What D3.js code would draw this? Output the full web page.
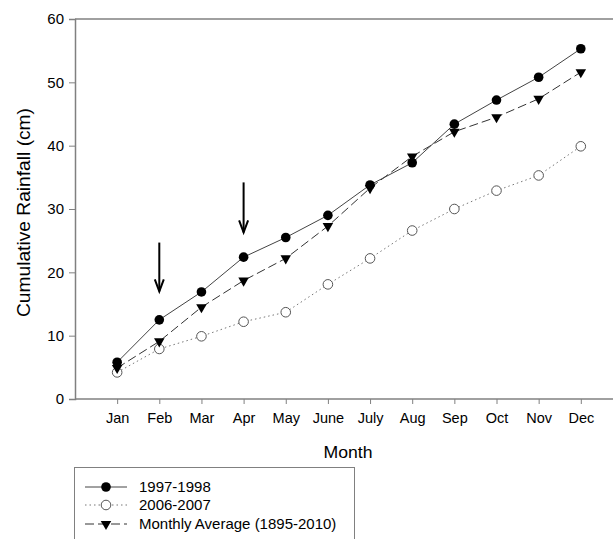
<!DOCTYPE html>
<html><head><meta charset="utf-8">
<script src="https://cdn.jsdelivr.net/npm/d3@7"></script>
<style>body{margin:0;background:#fff}svg{display:block;font-family:"Liberation Sans",Arial,sans-serif}</style>
</head><body><svg id="c" width="613" height="539"></svg>
<script>
const months = ["Jan","Feb","Mar","Apr","May","June","July","Aug","Sep","Oct","Nov","Dec"];
const s1997 = [5.8,12.5,16.9,22.4,25.5,29.0,33.8,37.3,43.4,47.2,50.8,55.3];
const s2006 = [4.2,7.9,9.9,12.2,13.7,18.1,22.2,26.6,30.0,32.9,35.3,39.9];
const sAvg  = [4.9,9.1,14.5,18.7,22.2,27.3,33.3,38.3,42.2,44.5,47.4,51.6];
const yTicks = [0,10,20,30,40,50,60];
const arrowMonths = ["Feb","Apr"];
const arrowTops = [24.7,34.2];
const arrowTips = [17.0,26.3];
const seriesNames = ["1997-1998","2006-2007","Monthly Average (1895-2010)"];

const svg = d3.select("#c");
const L = 75, T = 19, B = 399;
const x = d3.scaleLinear().domain([0,13]).range([L, L + 42.15*13]);
const xm = m => x(months.indexOf(m) + 1);
const y = d3.scaleLinear().domain([0,60]).range([B, T]);

svg.append("line").attr("x1",L).attr("x2",613).attr("y1",y(60)).attr("y2",y(60)).attr("stroke","#808080").attr("stroke-width",1.5);

const ya = svg.append("g").attr("transform",`translate(${L},0)`).call(d3.axisLeft(y).tickValues(yTicks).tickSize(6).tickPadding(5));
ya.select(".domain").attr("stroke","#808080").attr("stroke-width",1.5);
ya.selectAll(".tick line").attr("stroke","#808080");
ya.selectAll("text").attr("font-size",15).attr("fill","#000");

const xa = svg.append("g").attr("transform",`translate(0,${B})`)
  .call(d3.axisBottom(x).tickValues(d3.range(1,13)).tickFormat(d=>months[d-1]).tickSize(5).tickPadding(9));
xa.select(".domain").attr("stroke","#808080").attr("stroke-width",1.5).attr("d",`M${L},0H613`);
xa.selectAll(".tick line").attr("stroke","#808080");
xa.selectAll("text").attr("font-size",14.5).attr("fill","#000");

svg.append("text").attr("x",348).attr("y",458).attr("text-anchor","middle").attr("font-size",17)
  .attr("textLength",49).attr("lengthAdjust","spacingAndGlyphs").text("Month");
svg.append("text").attr("transform","translate(30,212.5) rotate(-90)").attr("text-anchor","middle").attr("font-size",17.5)
  .attr("textLength",209).attr("lengthAdjust","spacingAndGlyphs").text("Cumulative Rainfall (cm)");

const line = d3.line().x((d,i)=>x(i+1)).y(d=>y(d));
svg.append("path").datum(s2006).attr("d",line).attr("fill","none").attr("stroke","#777").attr("stroke-width",1).attr("stroke-dasharray","1.5,3");
svg.append("path").datum(sAvg).attr("d",line).attr("fill","none").attr("stroke","#333").attr("stroke-width",1).attr("stroke-dasharray","9,4");
svg.append("path").datum(s1997).attr("d",line).attr("fill","none").attr("stroke","#444").attr("stroke-width",1);

const tri = d3.symbol().type(d3.symbolTriangle).size(48);
function marker(g, kind, cx, cy){
  if(kind===0) g.append("circle").attr("cx",cx).attr("cy",cy).attr("r",4.8).attr("fill","#000");
  else if(kind===1) g.append("circle").attr("cx",cx).attr("cy",cy).attr("r",4.8).attr("fill","#fff").attr("stroke","#555").attr("stroke-width",1);
  else g.append("path").attr("d",tri).attr("transform",`translate(${cx},${cy}) rotate(180)`).attr("fill","#000");
}
const mg = svg.append("g");
s2006.forEach((v,i)=>marker(mg,1,x(i+1),y(v)));
sAvg.forEach((v,i)=>marker(mg,2,x(i+1),y(v)));
s1997.forEach((v,i)=>marker(mg,0,x(i+1),y(v)));

arrowMonths.forEach((m,i)=>{
  const ax = xm(m), t = y(arrowTops[i]), b = y(arrowTips[i]);
  svg.append("line").attr("x1",ax).attr("x2",ax).attr("y1",t).attr("y2",b).attr("stroke","#000").attr("stroke-width",2);
  svg.append("path").attr("d",`M${ax-4.5},${b-12}L${ax},${b}L${ax+4.5},${b-12}`).attr("fill","none").attr("stroke","#000").attr("stroke-width",2);
});

const lg = svg.append("g");
lg.append("rect").attr("x",74.5).attr("y",467.5).attr("width",280).attr("height",90).attr("fill","#fff").attr("stroke","#808080").attr("stroke-width",1);
const rowsY = [487,505,524];
const dashes = [null,"1.5,3","9,4"];
const strokes = ["#444","#777","#333"];
seriesNames.forEach((n,i)=>{
  const ly = rowsY[i];
  const ln = lg.append("line").attr("x1",85).attr("x2",127).attr("y1",ly).attr("y2",ly).attr("stroke",strokes[i]).attr("stroke-width",1);
  if(dashes[i]) ln.attr("stroke-dasharray",dashes[i]);
  marker(lg,i,106,ly);
  lg.append("text").attr("x",139).attr("y",ly+5).attr("font-size",15).text(n);
});
</script></body></html>
